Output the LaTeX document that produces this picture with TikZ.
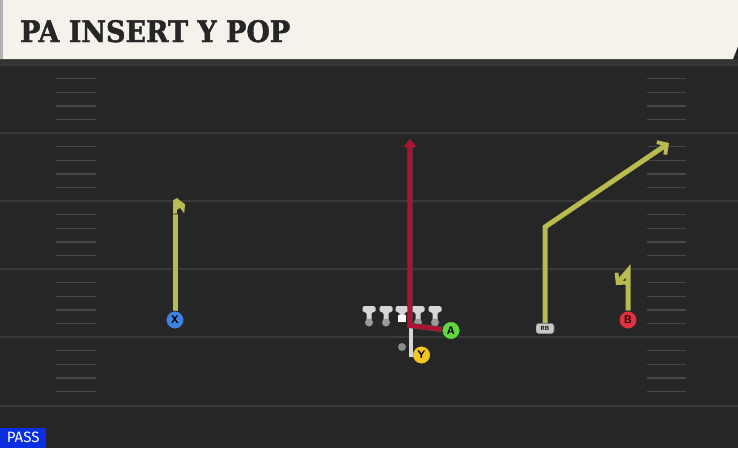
\documentclass[tikz,border=0pt]{standalone}
\usepackage{fontspec}
\usepackage{graphicx}
\usetikzlibrary{arrows.meta}

\newfontfamily\titlefont{DejaVu Serif}[BoldFeatures={FakeBold=1.6}]
\newfontfamily\tagfont{Fira Sans}

\definecolor{cream}{HTML}{F4F2EB}
\definecolor{turf}{HTML}{262626}
\definecolor{yardline}{HTML}{3A3A3A}
\definecolor{hashgrey}{HTML}{474747}
\definecolor{routeyellow}{HTML}{B9BA50}
\definecolor{routered}{HTML}{B11233}
\definecolor{teegrey}{HTML}{D6D6D6}
\definecolor{dotgrey}{HTML}{9A9A9A}
\definecolor{passblue}{HTML}{0B2FE0}
\definecolor{xblue}{HTML}{3F82E0}
\definecolor{bred}{HTML}{E2303F}
\definecolor{agreen}{HTML}{62D63E}
\definecolor{yyellow}{HTML}{F3C623}

\begin{document}
\begin{tikzpicture}[
  x=1pt,y=-1pt,
  font=\sffamily,
  yard/.style={yardline,line width=1.6pt},
  hash/.style={hashgrey,line width=1.4pt},
  player/.style={draw=black!85,circle,thick,inner sep=0pt,minimum size=18pt,
    font=\sffamily\bfseries\fontsize{11}{11}\selectfont},
  lineman/.style={fill=dotgrey,circle,inner sep=0pt,minimum size=8pt},
  route/.style={routeyellow,line width=5pt,preaction={draw=black!85,line width=6.4pt}},
  hot/.style={routered,line width=4.4pt,preaction={draw=black!70,line width=5.4pt}},
  pop/.style={teegrey,line width=4pt},
  to/.style={-{Straight Barb[length=7pt,width=15pt,line width=3.8pt]}},
  every node/.style={align=center}]

  \useasboundingbox (0,0) rectangle (738,448);

  % Field and header
  \fill[turf] (0,0) rectangle (738,448);
  \fill[black!80] (0,59) rectangle (738,64);
  \fill[cream] (0,0) -- (738,0) -- (738,46) -- (733,59) -- (0,59) -- cycle;
  \fill[black!30] (0,0) rectangle (3,59);
  \node[anchor=base west,inner sep=0pt] (title) at (20,42)
    {\resizebox{270pt}{22pt}{\titlefont\bfseries\fontsize{30}{30}\selectfont\color{black!85}PA INSERT Y POP}};

  % Yard lines and hash marks
  \foreach \yl in {65,133,201,269,337,406}
    \draw[yard] (0,\yl) -- (738,\yl);
  \foreach \yl in {65,133,201,269,337}
    \foreach \k in {1,2,3,4} {
      \draw[hash] (56,{\yl+13.6*\k}) -- (96,{\yl+13.6*\k});
      \draw[hash] (647,{\yl+13.6*\k}) -- (686,{\yl+13.6*\k});
    }

  % Offensive line
  \foreach \x in {369,386,402,418,435} {
    \fill[teegrey,rounded corners=1.5pt] (\x-6.5,306) -- (\x+6.5,306) -- (\x+6.5,312)
      -- (\x+2.5,312) -- (\x+2.5,321) -- (\x-2.5,321) -- (\x-2.5,312) -- (\x-6.5,312) -- cycle;
  }
  \foreach \x/\n in {369/lt,386/lg,418/rg,435/rt}
    \node[lineman] (\n) at (\x,322.5) {};
  \node[fill=white,inner sep=0pt,minimum size=7.5pt] (c) at (402,318.5) {};
  \node[lineman,fill=black!45] (qb) at (402,347) {};

  % Skill players
  \node[player,fill=xblue] (X) at (175,320) {X};
  \node[player,fill=bred] (B) at (628,320) {B};
  \node[player,fill=agreen] (A) at (451,330.5) {A};
  \node[player,fill=yyellow] (Y) at (421.5,355) {Y};
  \node[draw=black!80,fill=black!22,rounded corners=2.5pt,inner sep=0pt,
    minimum width=18pt,minimum height=10.5pt,
    font=\sffamily\bfseries\fontsize{6}{6}\selectfont] (RB) at (545,328.5) {RB};

  % Route points
  \coordinate (xTop) at (175,200);
  \coordinate (bTop) at (628,271);
  \coordinate (bEnd) at (616,285);
  \coordinate (rbCut) at (545,227);
  \coordinate (rbEnd) at (669,143);
  \coordinate (aCut) at (410,325.5);
  \coordinate (aEnd) at (410,139);
  \coordinate (yBase) at (411,357);
  \coordinate (yTop) at (411,327);

  % Routes
  \draw[pop] (yBase) -- (yTop);
  \draw[hot,-{Triangle[length=8pt,width=12pt]}] (A) -- (aCut) -- (aEnd);
  \draw[route] (X) -- (xTop);
  \filldraw[routeyellow,draw=black!85,line width=0.7pt] (172.5,214) -- (172.5,200) -- (177,197.5)
    -- (185.5,204) -- (184.5,214.5) -- (180,208.5) -- (177.5,210) -- (177.5,214) -- cycle;
  \draw[route,to] (B) -- (bTop) -- (bEnd);
  \draw[route,to] (RB) -- (rbCut) -- (rbEnd);

  \node[player,fill=xblue] at (X) {X};
  \node[player,fill=bred] at (B) {B};
  \node[player,fill=agreen] at (A) {A};
  \node[draw=black!80,fill=black!22,rounded corners=2.5pt,inner sep=0pt,
    minimum width=18pt,minimum height=10.5pt,
    font=\sffamily\bfseries\fontsize{6}{6}\selectfont] at (RB) {RB};

  % Play type tag
  \node[fill=passblue,text=white,anchor=south west,inner sep=0pt,
    minimum width=46pt,minimum height=20pt,
    font=\tagfont\fontsize{15}{15}\selectfont] (tag) at (0,448) {PASS};

\end{tikzpicture}
\end{document}
